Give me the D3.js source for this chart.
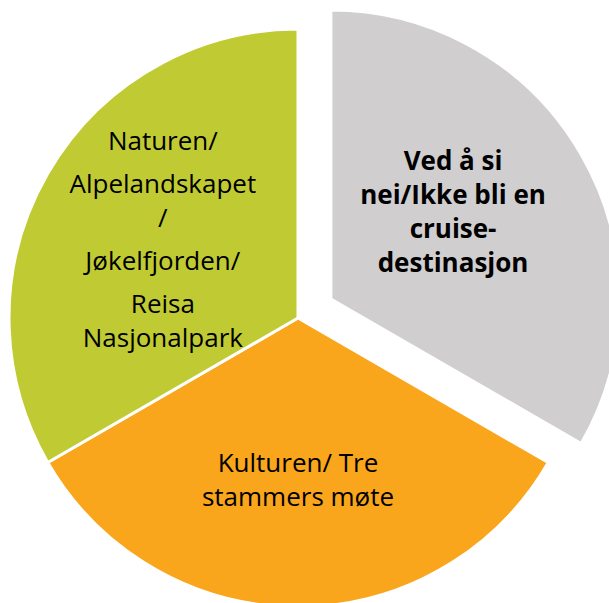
<!DOCTYPE html>
<html>
<head>
<meta charset="utf-8">
<script src="https://cdn.jsdelivr.net/npm/d3@7"></script>
<style>
	html, body { margin: 0; padding: 0; background: #ffffff; }
	svg { display: block; }
</style>
</head>
<body>
<svg id="chart" width="609" height="603"></svg>
<script>
// Slices, clockwise from 12 o'clock
var categories = ["Ved å si nei/Ikke bli en cruise-destinasjon", "Kulturen/ Tre stammers møte", "Naturen/ Alpelandskapet / Jøkelfjorden/ Reisa Nasjonalpark"];
var values = [1, 1, 1];
// label text: paragraphs, each a list of wrapped lines
var labels = [
	[["Ved å si", "nei/Ikke bli en", "cruise-", "destinasjon"]],
	[["Kulturen/ Tre", "stammers møte"]],
	[["Naturen/"], ["Alpelandskapet", "/"], ["Jøkelfjorden/"], ["Reisa", "Nasjonalpark"]]
];
var colors = ["#D0CECF", "#F9A61C", "#C0CB33"];
var bold = [true, false, false];
var exploded = [38, 0, 0];
var labelNudge = [[-13, -8], [0, 7], [0, 1]];

var svg = d3.select("#chart");
var cx = 298, cy = 318, radius = 289;
var lineHeight = 34, paraGap = 9;

var pie = d3.pie().sort(null).value(d=>d);
var arcs = pie(values);
var arc = d3.arc().innerRadius(0).outerRadius(radius);
var labelArc = d3.arc().innerRadius(0).outerRadius(radius * 1.08);

//Offset of a slice along its bisector
function shift(d, i) {
	var a = (d.startAngle + d.endAngle) / 2;
	return [Math.sin(a) * exploded[i], -Math.cos(a) * exploded[i]];
}

var g = svg.append("g").attr("transform", "translate(" + cx + "," + cy + ")");

var slices = g.selectAll(".slice").data(arcs).enter().append("g")
	.attr("class", "slice")
	.attr("transform", (d, i)=>"translate(" + shift(d, i) + ")");

slices.append("path")
	.attr("d", arc)
	.attr("fill", (d, i)=>colors[i])
	.attr("stroke", "#ffffff")
	.attr("stroke-width", 3)
	.attr("stroke-linejoin", "miter");

slices.each(function(d, i) {
	var c = labelArc.centroid(d);
	c = [c[0] + labelNudge[i][0], c[1] + labelNudge[i][1]];
	var paras = labels[i];
	//Build y offsets for each line
	var lines = [];
	var y = 0;
	paras.forEach((p, pi)=>{
		if (pi > 0) y += paraGap;
		p.forEach(t=>{ lines.push({text: t, y: y}); y += lineHeight; });
	});
	var total = y - lineHeight;
	var text = d3.select(this).append("text")
		.attr("text-anchor", "middle")
		.attr("font-family", "'Open Sans', Lato, sans-serif")
		.attr("font-size", 26)
		.attr("font-weight", bold[i] ? "bold" : "normal")
		.attr("fill", "#000000");
	text.selectAll("tspan").data(lines).enter().append("tspan")
		.attr("x", c[0])
		.attr("y", l=>c[1] - total / 2 + l.y + 8)
		.text(l=>l.text);
});
</script>
</body>
</html>
